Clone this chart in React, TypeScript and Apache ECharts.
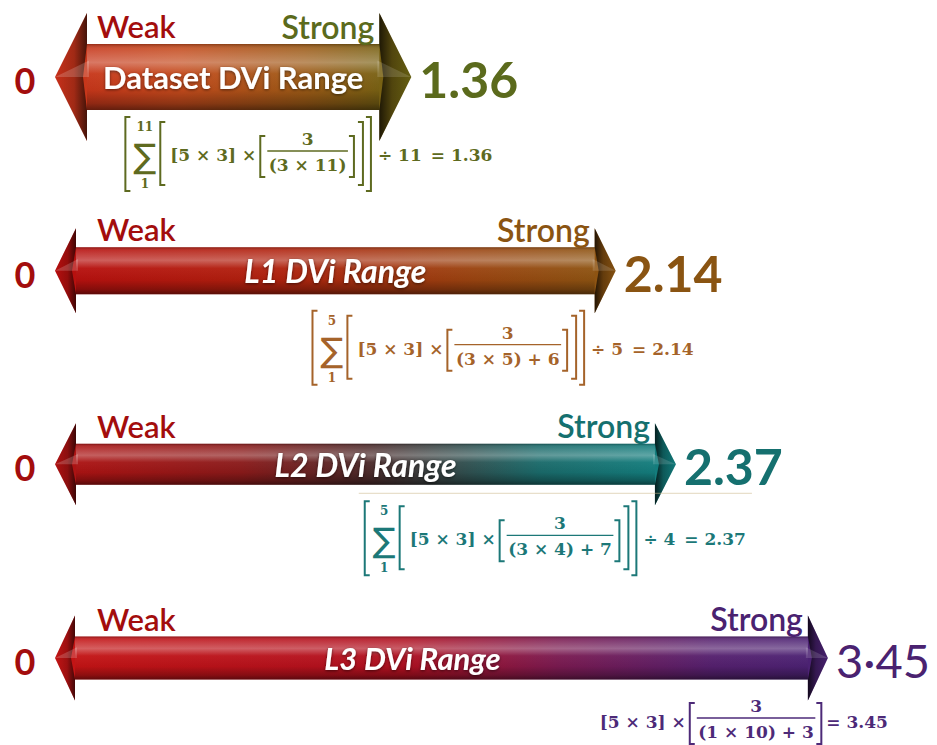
import React, { useEffect, useRef } from 'react';
import * as echarts from 'echarts';

// ---------- data ----------
const rowNames = ['Dataset DVi Range', 'L1 DVi Range', 'L2 DVi Range', 'L3 DVi Range'];
const dviValues = [1.36, 2.14, 2.37, 3.45];
const valueLabels = ['1.36', '2.14', '2.37', '3·45'];
// where each arrow tip reaches, in DVi units, as drawn in the source picture
// (the source draws the last arrow shortened so that it fits the page)
const arrowReach = [1.36, 2.14, 2.37, 2.95];
const startLabel = '0';
const weakLabel = 'Weak';
const strongLabel = 'Strong';
const sumUpper = ['11', '5', '5', ''];
const sumLower = ['1', '1', '1', ''];
const productTerms = ['[5 × 3] ×', '[5 × 3] ×', '[5 × 3] ×', '[5 × 3] ×'];
const numerators = ['3', '3', '3', '3'];
const denominators = ['(3 × 11)', '(3 × 5) + 6', '(3 × 4) + 7', '(1 × 10) + 3'];
const divisors = ['11', '5', '4', ''];
const results = ['1.36', '2.14', '2.37', '3.45'];

// ---------- visual styling ----------
const rowStyle = [
  {
    shaftHalf: 33, headHalf: 64, headLen: 32,
    stops: [['0', '#c8301a'], ['0.35', '#c44a1c'], ['0.7', '#9c5a16'], ['1', '#6a6412']],
    ink: '#5b6a1c', formulaInk: '#5e6a20', italic: false, textSize: 31, textDx: 0,
    valueSize: 50, valueWeight: 'bold', formulaDx: 81, formulaDy: 78, rule: false,
  },
  {
    shaftHalf: 23.5, headHalf: 42.5, headLen: 21,
    stops: [['0', '#b80f0f'], ['0.4', '#b0220e'], ['0.75', '#9a4410'], ['1', '#8c5612']],
    ink: '#8a5412', formulaInk: '#a5632a', italic: true, textSize: 32, textDx: 0,
    valueSize: 50, valueWeight: 'bold', formulaDx: 78, formulaDy: 78, rule: false,
  },
  {
    shaftHalf: 20.5, headHalf: 41, headLen: 21,
    stops: [['0', '#b01212'], ['0.3', '#8a1a1a'], ['0.5', '#4e2a2a'], ['0.78', '#1a6a6a'], ['1', '#128080']],
    ink: '#15706f', formulaInk: '#1c7878', italic: true, textSize: 32, textDx: 0,
    valueSize: 50, valueWeight: 'bold', formulaDx: 70, formulaDy: 75, rule: true,
  },
  {
    shaftHalf: 21.5, headHalf: 42.5, headLen: 20,
    stops: [['0', '#c41414'], ['0.45', '#b01020'], ['0.65', '#7a1a50'], ['0.85', '#55206e'], ['1', '#4a2274']],
    ink: '#4a2270', formulaInk: '#4d2a78', italic: true, textSize: 31, textDx: -29,
    valueSize: 47, valueWeight: 'normal', formulaDx: 60, formulaDy: 64, rule: false,
  },
];

const WEAK_INK = '#a30d0d';
const LABEL_FONT = 'Lato, "Open Sans", sans-serif';
const FORMULA_FONT = '"DejaVu Serif", "Liberation Serif", serif';
const SIGMA_FONT = '"DejaVu Sans", sans-serif';

let measureCtx: CanvasRenderingContext2D | null = null;
function measure(text: string, size: number, weight = 'bold', family = FORMULA_FONT) {
  if (!measureCtx) measureCtx = document.createElement('canvas').getContext('2d');
  if (!measureCtx) return text.length * size * 0.6;
  measureCtx.font = `${weight} ${size}px ${family}`;
  return measureCtx.measureText(text).width;
}

function txt(text: string, x: number, y: number, size: number, fill: string, opts: any = {}) {
  return {
    type: 'text',
    x,
    y,
    style: {
      text,
      fill,
      fontSize: size,
      fontFamily: opts.family || FORMULA_FONT,
      fontWeight: opts.weight || 'bold',
      fontStyle: opts.style || 'normal',
      align: opts.align || 'center',
      verticalAlign: 'middle',
      ...(opts.extra || {}),
    },
  };
}

function bracket(x: number, yTop: number, yBot: number, open: boolean, color: string, arm = 5) {
  const pts = open
    ? [[x + arm, yTop], [x, yTop], [x, yBot], [x + arm, yBot]]
    : [[x, yTop], [x + arm, yTop], [x + arm, yBot], [x, yBot]];
  return { type: 'polyline', shape: { points: pts }, style: { stroke: color, lineWidth: 2, fill: 'none' } };
}

function buildFormula(i: number, right: number, cy: number, ink: string) {
  const fs = 17;
  const parts: { w: number; draw: (x: number) => any[] }[] = [];
  const add = (w: number, draw: (x: number) => any[]) => parts.push({ w, draw });
  const gap = (w: number) => parts.push({ w, draw: () => [] });
  const hasSum = sumUpper[i] !== '';
  const lineY = cy - 4;
  const BR = 6;

  if (hasSum) {
    add(BR, (x) => [bracket(x, cy - 38, cy + 36, true, ink)]);
    gap(2);
    const sw = measure('∑', 34, 'normal', SIGMA_FONT);
    add(sw, (x) => [
      txt('∑', x + sw / 2, cy + 1, 34, ink, { weight: 'normal', family: SIGMA_FONT }),
      txt(sumUpper[i], x + sw / 2, cy - 28, 12, ink),
      txt(sumLower[i], x + sw / 2, cy + 29, 12, ink),
    ]);
    gap(4);
    add(BR, (x) => [bracket(x, cy - 33, cy + 30, true, ink)]);
    gap(4);
  }
  const pw = measure(productTerms[i], fs);
  add(pw, (x) => [txt(productTerms[i], x, cy, fs, ink, { align: 'left' })]);
  gap(4);
  add(BR, (x) => [bracket(x, lineY - 15, lineY + 26, true, ink)]);
  gap(1);
  const fw = Math.max(measure(numerators[i], fs), measure(denominators[i], fs)) + 3;
  add(fw, (x) => [
    txt(numerators[i], x + fw / 2, lineY - 12, fs, ink),
    { type: 'line', shape: { x1: x, y1: lineY, x2: x + fw, y2: lineY }, style: { stroke: ink, lineWidth: 1.3 } },
    txt(denominators[i], x + fw / 2, lineY + 14, fs, ink),
  ]);
  gap(1);
  add(BR, (x) => [bracket(x, lineY - 15, lineY + 26, false, ink)]);
  if (hasSum) {
    gap(3);
    add(BR, (x) => [bracket(x, cy - 33, cy + 30, false, ink)]);
    gap(2);
    add(BR, (x) => [bracket(x, cy - 38, cy + 36, false, ink)]);
  }
  if (divisors[i]) {
    gap(6);
    const dt = '÷ ' + divisors[i];
    const dw = measure(dt, fs);
    add(dw, (x) => [txt(dt, x, cy, fs, ink, { align: 'left' })]);
    gap(9);
  } else {
    gap(4);
  }
  const rt = '= ' + results[i];
  const rw = measure(rt, fs);
  add(rw, (x) => [txt(rt, x, cy, fs, ink, { align: 'left' })]);

  const total = parts.reduce((s, p) => s + p.w, 0);
  let x = right - total;
  const left = x;
  const out: any[] = [];
  for (const p of parts) {
    out.push(...p.draw(x));
    x += p.w;
  }
  return { children: out, left, right };
}

const data = arrowReach.map((r, i) => [r, i, dviValues[i]]);

function renderItem(params: any, api: any) {
  const i = api.value(1) as number;
  const s = rowStyle[i];
  const start = api.coord([0, i]);
  const end = api.coord([api.value(0), i]);
  const x0 = start[0];
  const x1 = end[0];
  const cy = start[1];
  const hb0 = x0 + s.headLen;
  const hb1 = x1 - s.headLen;
  const sh = s.shaftHalf;
  const hh = s.headHalf;

  const outline = [
    [x0, cy], [hb0, cy - hh], [hb0, cy - sh], [hb1, cy - sh], [hb1, cy - hh],
    [x1, cy], [hb1, cy + hh], [hb1, cy + sh], [hb0, cy + sh], [hb0, cy + hh],
  ];
  const stops = s.stops.map(([o, c]) => ({ offset: Number(o), color: c }));
  const shade = new echarts.graphic.LinearGradient(0, 0, 0, 1, [
    { offset: 0, color: 'rgba(0,0,0,0.25)' },
    { offset: 0.07, color: 'rgba(255,255,255,0.12)' },
    { offset: 0.28, color: 'rgba(255,255,255,0.32)' },
    { offset: 0.45, color: 'rgba(255,255,255,0.04)' },
    { offset: 0.7, color: 'rgba(0,0,0,0.04)' },
    { offset: 0.9, color: 'rgba(0,0,0,0.28)' },
    { offset: 1, color: 'rgba(0,0,0,0.5)' },
  ]);
  const headShadeL = new echarts.graphic.LinearGradient(0, 0, 1, 0, [
    { offset: 0, color: 'rgba(0,0,0,0)' },
    { offset: 0.6, color: 'rgba(0,0,0,0.2)' },
    { offset: 1, color: 'rgba(0,0,0,0.65)' },
  ]);
  const headShadeR = new echarts.graphic.LinearGradient(1, 0, 0, 0, [
    { offset: 0, color: 'rgba(0,0,0,0.05)' },
    { offset: 0.6, color: 'rgba(0,0,0,0.3)' },
    { offset: 1, color: 'rgba(0,0,0,0.75)' },
  ]);

  const children: any[] = [
    { type: 'polygon', shape: { points: outline }, style: { fill: new echarts.graphic.LinearGradient(0, 0, 1, 0, stops) } },
    { type: 'rect', shape: { x: hb0, y: cy - sh, width: hb1 - hb0, height: sh * 2 }, style: { fill: shade } },
    // head flanges
    { type: 'polygon', shape: { points: [[x0, cy], [hb0, cy - hh], [hb0, cy - sh], [hb0 - 4, cy]] }, style: { fill: headShadeL } },
    { type: 'polygon', shape: { points: [[x0, cy], [hb0 - 4, cy], [hb0, cy + sh], [hb0, cy + hh]] }, style: { fill: headShadeL } },
    { type: 'polygon', shape: { points: [[x1, cy], [hb1, cy - hh], [hb1, cy - sh], [hb1 + 4, cy]] }, style: { fill: headShadeR } },
    { type: 'polygon', shape: { points: [[x1, cy], [hb1 + 4, cy], [hb1, cy + sh], [hb1, cy + hh]] }, style: { fill: headShadeR } },
    // head bevel highlight
    { type: 'polygon', shape: { points: [[x0, cy], [hb0 + 2, cy - sh * 0.5], [hb0 + 2, cy]] }, style: { fill: 'rgba(255,255,255,0.18)' } },
    { type: 'polygon', shape: { points: [[x1, cy], [hb1 - 2, cy - sh * 0.5], [hb1 - 2, cy]] }, style: { fill: 'rgba(255,255,255,0.14)' } },
  ];

  // label inside the arrow
  children.push(
    txt(rowNames[i], (x0 + x1) / 2 + s.textDx, cy, s.textSize, '#ffffff', {
      family: LABEL_FONT,
      weight: 'bold',
      style: s.italic ? 'italic' : 'normal',
      extra: { textShadowColor: 'rgba(0,0,0,0.55)', textShadowBlur: 3, textShadowOffsetY: 1 },
    })
  );
  // weak / strong
  children.push(txt(weakLabel, x0 + 42, cy - sh - 18, 31, WEAK_INK, { family: LABEL_FONT, weight: '600', align: 'left' }));
  children.push(txt(strongLabel, hb1 - 5, cy - sh - 18, 32, s.ink, { family: LABEL_FONT, weight: '600', align: 'right' }));
  // zero and value
  children.push(txt(startLabel, x0 - 30, cy + 3, 36, WEAK_INK, { family: LABEL_FONT, weight: 'bold' }));
  children.push(txt(valueLabels[i], x1 + 8, cy + 2, s.valueSize, s.ink, { family: LABEL_FONT, weight: s.valueWeight, align: 'left' }));

  // formula
  const f = buildFormula(i, x1 + s.formulaDx, cy + s.formulaDy, s.formulaInk);
  if (s.rule) {
    children.push({
      type: 'line',
      shape: { x1: f.left - 6, y1: cy + 29, x2: f.right + 6, y2: cy + 29 },
      style: { stroke: 'rgba(205,185,140,0.45)', lineWidth: 1.2 },
    });
  }
  children.push(...f.children);

  return { type: 'group', children };
}

export default function App() {
  const ref = useRef<HTMLDivElement>(null);
  useEffect(() => {
    if (!ref.current) return;
    const chart = echarts.init(ref.current, undefined, { renderer: 'svg' });
    chart.setOption({
      animation: false,
      backgroundColor: '#ffffff',
      grid: { left: 55, right: 96, top: 77, bottom: 87 },
      xAxis: { type: 'value', min: 0, max: 3, show: false },
      yAxis: { type: 'value', min: 0, max: 3, inverse: true, show: false },
      series: [
        {
          type: 'custom',
          renderItem,
          data,
          clip: false,
          silent: true,
          encode: { x: 0, y: 1 },
        },
      ],
    });
    return () => chart.dispose();
  }, []);
  return <div ref={ref} style={{ position: 'absolute', left: 0, top: 0, width: 937, height: 745 }} />;
}
